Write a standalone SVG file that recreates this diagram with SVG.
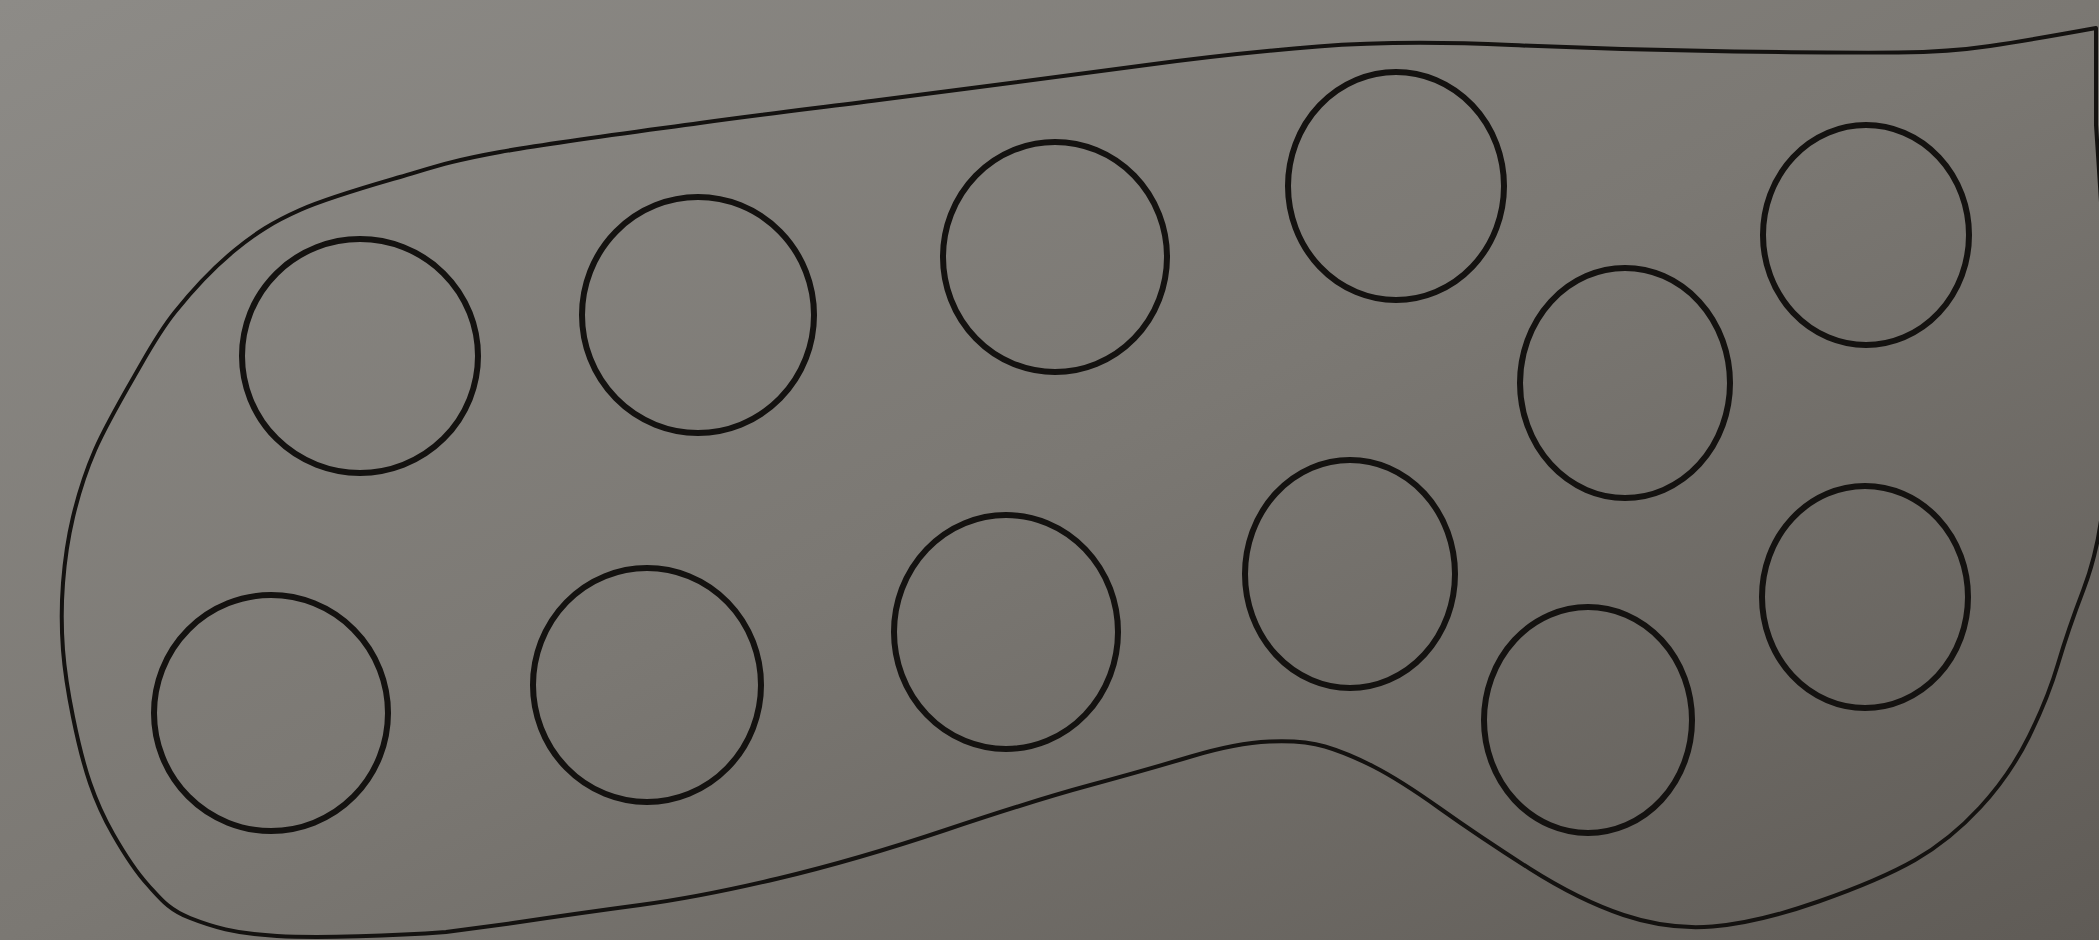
<svg xmlns="http://www.w3.org/2000/svg" width="2099" height="940" viewBox="0 0 2099 940">
<defs>
<linearGradient id="bg" x1="0" y1="0" x2="1" y2="1">
<stop offset="0" stop-color="#8d8b87"/>
<stop offset="0.5" stop-color="#7b7873"/>
<stop offset="1" stop-color="#5f5b56"/>
</linearGradient>
<style>
.cell{fill:none;stroke:#141210;stroke-width:6}
.outline{fill:none;stroke:#141210;stroke-width:4;stroke-linejoin:round}
</style>
</defs>
<rect width="2099" height="940" fill="url(#bg)"/>
<g id="outline">
<path class="outline" d="M2096 28 L2096 125 Q2108 300 2108 375 Q2108 450 2103.5 499.5 Q2099 549 2083.5 589.5 Q2068 630 2058 664 Q2048 698 2029 736.5 Q2010 775 1980 807.5 Q1950 840 1915 860 Q1880 880 1818.5 901.5 Q1757 923 1712.5 926.5 Q1668 930 1623.5 915 Q1579 900 1529.5 868.5 Q1480 837 1440 808.5 Q1400 780 1373.5 766.5 Q1347 753 1325 746.5 Q1303 740 1269.5 741.5 Q1236 743 1191 756.5 Q1146 770 1090.5 785 Q1035 800 945.5 830 Q856 860 778 878.5 Q700 897 640 905 Q580 913 513 923 L446 932 C395.5 935.8 319.7 938.3 277 936 C234.3 933.7 211.5 926.5 190 918 C168.5 909.5 160.8 899 148 885 C135.2 871 122.7 851 113 834 C103.3 817 96.7 802.5 90 783 C83.3 763.5 77.5 739.2 73 717 C68.5 694.8 64.7 672.3 63 650 C61.3 627.7 61.3 605.2 63 583 C64.7 560.8 67.7 539.2 73 517 C78.3 494.8 84.7 473.7 95 450 C105.3 426.3 121.7 398 135 375 C148.3 352 158.3 332.8 175 312 C191.7 291.2 214.2 267 235 250 C255.8 233 272.5 222.2 300 210 C327.5 197.8 366.7 186.7 400 177 C433.3 167.3 450 161 500 152 C550 143 636.8 131.7 700 123 C763.2 114.3 819.5 107.7 879 100 L968 88.5 Q1057 77 1146.5 65 Q1236 53 1318 46.5 Q1400 40 1511.5 45 Q1623 50 1734.5 51.5 Q1846 53 1898 52.5 Q1950 52 1990 46 Q2030 40 2096 28 Z"/>
</g>
<g id="c1"><ellipse class="cell" cx="360" cy="356" rx="118" ry="117"/></g>
<g id="c2"><ellipse class="cell" cx="698" cy="315" rx="116" ry="118"/></g>
<g id="c3"><ellipse class="cell" cx="1055" cy="257" rx="112" ry="115"/></g>
<g id="c4"><ellipse class="cell" cx="1396" cy="186" rx="108" ry="114"/></g>
<g id="c5"><ellipse class="cell" cx="1866" cy="235" rx="103" ry="110"/></g>
<g id="c6"><ellipse class="cell" cx="1625" cy="383" rx="105" ry="115"/></g>
<g id="c7"><ellipse class="cell" cx="271" cy="713" rx="117" ry="118"/></g>
<g id="c8"><ellipse class="cell" cx="647" cy="685" rx="114" ry="117"/></g>
<g id="c9"><ellipse class="cell" cx="1006" cy="632" rx="112" ry="117"/></g>
<g id="c10"><ellipse class="cell" cx="1350" cy="574" rx="105" ry="114"/></g>
<g id="c11"><ellipse class="cell" cx="1588" cy="720" rx="104" ry="113"/></g>
<g id="c12"><ellipse class="cell" cx="1865" cy="597" rx="103" ry="111"/></g>
</svg>
